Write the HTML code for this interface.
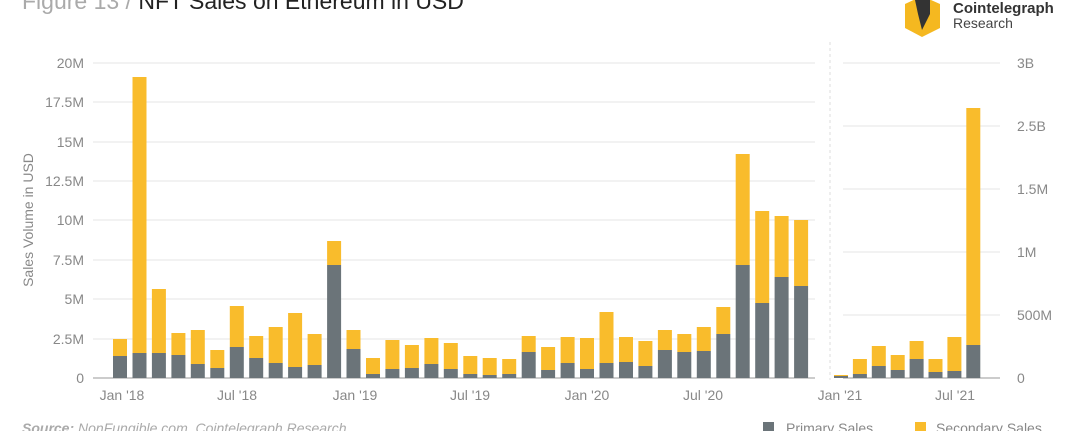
<!DOCTYPE html>
<html><head><meta charset="utf-8"><style>
html,body{margin:0;padding:0;background:#fff;}
svg{display:block;font-family:"Liberation Sans",sans-serif;}
</style></head><body>
<svg width="1080" height="431" viewBox="0 0 1080 431" xmlns="http://www.w3.org/2000/svg">
<text x="22" y="9" font-size="23" fill="#aaa">Figure 13 / <tspan fill="#222">NFT Sales on Ethereum in USD</tspan></text>
<polygon points="905,4 922,-4 940,4 940,28 922,37 905,28" fill="#f5b820"/>
<polygon points="915,0 930,0 930,14 922,30 918,14" fill="#333"/>
<text x="953" y="13" font-size="15" font-weight="bold" fill="#333">Cointelegraph</text>
<text x="953" y="28" font-size="14" fill="#444">Research</text>
<g stroke="#e6e6e6" stroke-width="1">
<line x1="93" y1="63" x2="815" y2="63"/><line x1="93" y1="102" x2="815" y2="102"/><line x1="93" y1="142" x2="815" y2="142"/><line x1="93" y1="181" x2="815" y2="181"/><line x1="93" y1="220" x2="815" y2="220"/><line x1="93" y1="260" x2="815" y2="260"/><line x1="93" y1="299" x2="815" y2="299"/><line x1="93" y1="339" x2="815" y2="339"/>
<line x1="843" y1="63" x2="1000" y2="63"/><line x1="843" y1="126" x2="1000" y2="126"/><line x1="843" y1="189" x2="1000" y2="189"/><line x1="843" y1="252" x2="1000" y2="252"/><line x1="843" y1="315" x2="1000" y2="315"/>
</g>
<line x1="830" y1="42" x2="830" y2="380" stroke="#ddd" stroke-dasharray="3,3"/>
<line x1="93" y1="378" x2="815" y2="378" stroke="#999"/>
<line x1="843" y1="378" x2="1000" y2="378" stroke="#999"/>
<g font-size="14" fill="#888" text-anchor="end">
<text x="84" y="68">20M</text><text x="84" y="107">17.5M</text><text x="84" y="147">15M</text><text x="84" y="186">12.5M</text><text x="84" y="225">10M</text><text x="84" y="265">7.5M</text><text x="84" y="304">5M</text><text x="84" y="344">2.5M</text><text x="84" y="383">0</text>
</g>
<g font-size="14" fill="#888">
<text x="1017" y="68">3B</text><text x="1017" y="131">2.5B</text><text x="1017" y="194">1.5M</text><text x="1017" y="257">1M</text><text x="1017" y="320">500M</text><text x="1017" y="383">0</text>
</g>
<text transform="translate(33,220) rotate(-90)" font-size="14" fill="#888" text-anchor="middle">Sales Volume in USD</text>
<g font-size="14" fill="#888" text-anchor="middle">
<text x="122" y="400">Jan '18</text><text x="237" y="400">Jul '18</text><text x="355" y="400">Jan '19</text><text x="470" y="400">Jul '19</text><text x="587" y="400">Jan '20</text><text x="703" y="400">Jul '20</text><text x="840" y="400">Jan '21</text><text x="955" y="400">Jul '21</text>
</g>
<g fill="#f9bc2c">
<rect x="113" y="339" width="14" height="17"/>
<rect x="132.5" y="77" width="14" height="276"/>
<rect x="151.9" y="289" width="14" height="64"/>
<rect x="171.4" y="333" width="14" height="22"/>
<rect x="190.8" y="330" width="14" height="34"/>
<rect x="210.3" y="350" width="14" height="18"/>
<rect x="229.8" y="306" width="14" height="41"/>
<rect x="249.2" y="336" width="14" height="22"/>
<rect x="268.7" y="327" width="14" height="36"/>
<rect x="288.1" y="313" width="14" height="54"/>
<rect x="307.6" y="334" width="14" height="31"/>
<rect x="327.1" y="241" width="14" height="24"/>
<rect x="346.5" y="330" width="14" height="19"/>
<rect x="366" y="358" width="14" height="16"/>
<rect x="385.4" y="340" width="14" height="29"/>
<rect x="404.9" y="345" width="14" height="23"/>
<rect x="424.4" y="338" width="14" height="26"/>
<rect x="443.8" y="343" width="14" height="26"/>
<rect x="463.3" y="356" width="14" height="18"/>
<rect x="482.7" y="358" width="14" height="17"/>
<rect x="502.2" y="359" width="14" height="15"/>
<rect x="521.7" y="336" width="14" height="16"/>
<rect x="541.1" y="347" width="14" height="23"/>
<rect x="560.6" y="337" width="14" height="26"/>
<rect x="580" y="338" width="14" height="31"/>
<rect x="599.5" y="312" width="14" height="51"/>
<rect x="619" y="337" width="14" height="25"/>
<rect x="638.4" y="341" width="14" height="25"/>
<rect x="657.9" y="330" width="14" height="20"/>
<rect x="677.3" y="334" width="14" height="18"/>
<rect x="696.8" y="327" width="14" height="24"/>
<rect x="716.3" y="307" width="14" height="27"/>
<rect x="735.7" y="154" width="14" height="111"/>
<rect x="755.2" y="211" width="14" height="92"/>
<rect x="774.6" y="216" width="14" height="61"/>
<rect x="794.1" y="220" width="14" height="66"/>
<rect x="834" y="375" width="14" height="1"/>
<rect x="852.9" y="359" width="14" height="15"/>
<rect x="871.8" y="346" width="14" height="20"/>
<rect x="890.7" y="355" width="14" height="15"/>
<rect x="909.6" y="341" width="14" height="18"/>
<rect x="928.5" y="359" width="14" height="13"/>
<rect x="947.4" y="337" width="14" height="34"/>
<rect x="966.3" y="108" width="14" height="237"/>
</g>
<g fill="#6b7479">
<rect x="113" y="356" width="14" height="22"/>
<rect x="132.5" y="353" width="14" height="25"/>
<rect x="151.9" y="353" width="14" height="25"/>
<rect x="171.4" y="355" width="14" height="23"/>
<rect x="190.8" y="364" width="14" height="14"/>
<rect x="210.3" y="368" width="14" height="10"/>
<rect x="229.8" y="347" width="14" height="31"/>
<rect x="249.2" y="358" width="14" height="20"/>
<rect x="268.7" y="363" width="14" height="15"/>
<rect x="288.1" y="367" width="14" height="11"/>
<rect x="307.6" y="365" width="14" height="13"/>
<rect x="327.1" y="265" width="14" height="113"/>
<rect x="346.5" y="349" width="14" height="29"/>
<rect x="366" y="374" width="14" height="4"/>
<rect x="385.4" y="369" width="14" height="9"/>
<rect x="404.9" y="368" width="14" height="10"/>
<rect x="424.4" y="364" width="14" height="14"/>
<rect x="443.8" y="369" width="14" height="9"/>
<rect x="463.3" y="374" width="14" height="4"/>
<rect x="482.7" y="375" width="14" height="3"/>
<rect x="502.2" y="374" width="14" height="4"/>
<rect x="521.7" y="352" width="14" height="26"/>
<rect x="541.1" y="370" width="14" height="8"/>
<rect x="560.6" y="363" width="14" height="15"/>
<rect x="580" y="369" width="14" height="9"/>
<rect x="599.5" y="363" width="14" height="15"/>
<rect x="619" y="362" width="14" height="16"/>
<rect x="638.4" y="366" width="14" height="12"/>
<rect x="657.9" y="350" width="14" height="28"/>
<rect x="677.3" y="352" width="14" height="26"/>
<rect x="696.8" y="351" width="14" height="27"/>
<rect x="716.3" y="334" width="14" height="44"/>
<rect x="735.7" y="265" width="14" height="113"/>
<rect x="755.2" y="303" width="14" height="75"/>
<rect x="774.6" y="277" width="14" height="101"/>
<rect x="794.1" y="286" width="14" height="92"/>
<rect x="834" y="376" width="14" height="2"/>
<rect x="852.9" y="374" width="14" height="4"/>
<rect x="871.8" y="366" width="14" height="12"/>
<rect x="890.7" y="370" width="14" height="8"/>
<rect x="909.6" y="359" width="14" height="19"/>
<rect x="928.5" y="372" width="14" height="6"/>
<rect x="947.4" y="371" width="14" height="7"/>
<rect x="966.3" y="345" width="14" height="33"/>
</g>
<text x="22" y="433" font-size="14" fill="#aaa" font-style="italic"><tspan font-weight="bold">Source:</tspan> NonFungible.com, Cointelegraph Research</text>
<rect x="763" y="422" width="11" height="11" fill="#6b7479"/><text x="786" y="433" font-size="14" fill="#888">Primary Sales</text>
<rect x="915" y="422" width="11" height="11" fill="#f9bc2c"/><text x="936" y="433" font-size="14" fill="#888">Secondary Sales</text>
</svg>
</body></html>
